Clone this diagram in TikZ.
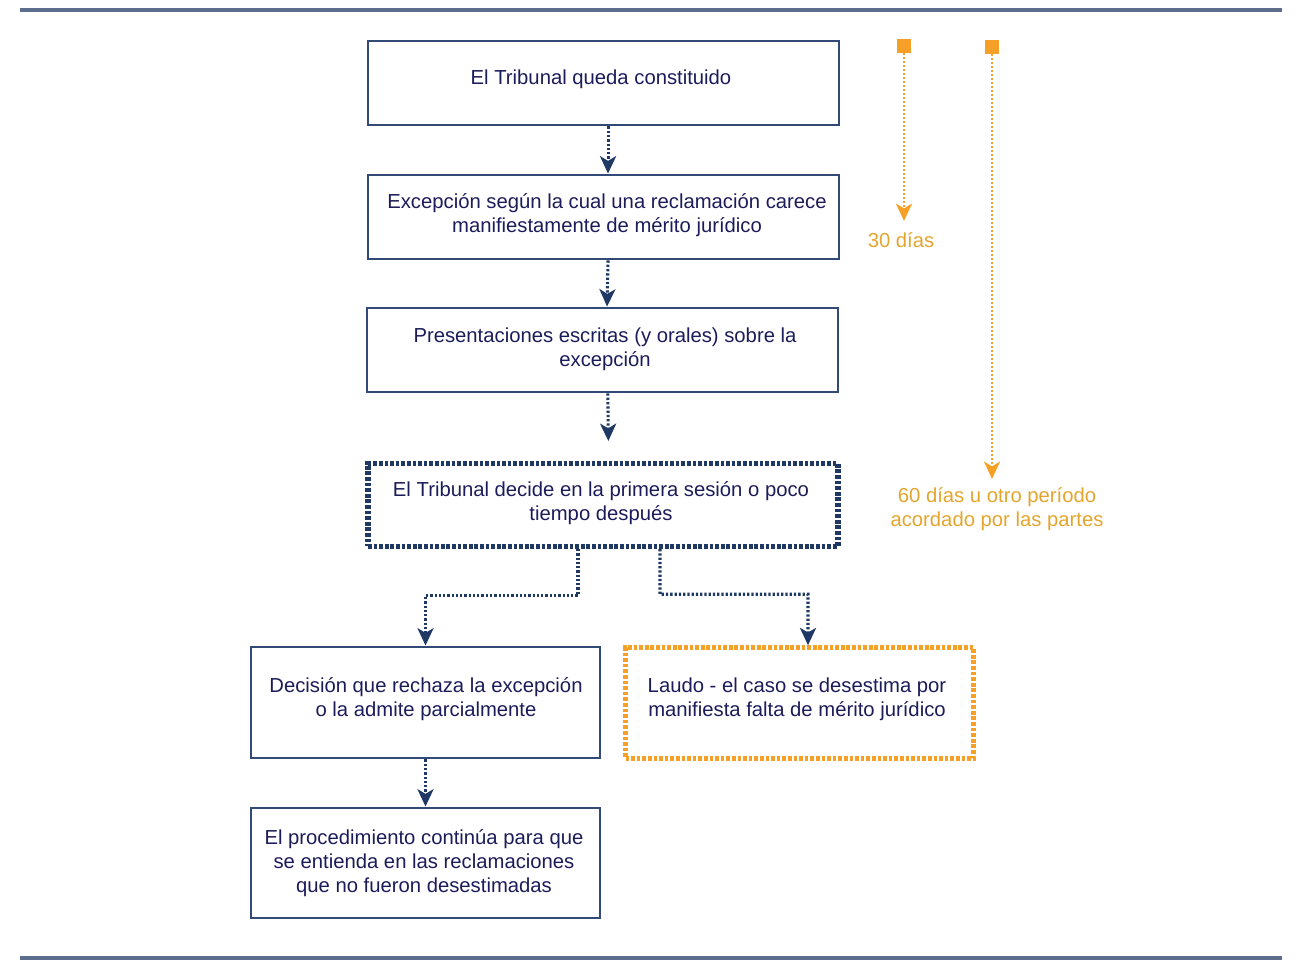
\documentclass[tikz,border=0pt]{standalone}
\usepackage{fontspec}
\setmainfont{Liberation Sans}
\usetikzlibrary{arrows.meta,calc}
\definecolor{boxc}{RGB}{50,74,118}
\definecolor{arrc}{RGB}{31,56,100}
\definecolor{txtc}{RGB}{28,28,90}
\definecolor{rulec}{RGB}{92,110,140}
\definecolor{orl}{RGB}{247,160,40}
\definecolor{ort}{RGB}{228,165,45}
\tikzset{
  box/.style={draw=boxc, line width=2.2pt, inner sep=0pt},
  dotbox/.style={draw=arrc, line width=4pt, dash pattern=on 2.8pt off 1.4pt, inner sep=0pt},
  orbox/.style={draw=orl, line width=3.4pt, dash pattern=on 2.8pt off 1.4pt, inner sep=0pt},
  txt/.style={text=txtc, font=\fontsize{15.2pt}{18pt}\selectfont, align=center, inner sep=0pt},
  otxt/.style={text=ort, font=\fontsize{15.2pt}{18pt}\selectfont, align=center, inner sep=0pt},
  arr/.style={draw=arrc, line width=2.3pt, dash pattern=on 1.7pt off 1.5pt, -{Stealth[length=13pt,width=12pt,inset=3.5pt]}},
  oarr/.style={draw=orl, line width=2.1pt, dash pattern=on 1.7pt off 1.3pt, -{Stealth[length=13pt,width=12pt,inset=3.5pt]}},
  osq/.style={fill=orl, minimum size=10pt, inner sep=0pt},
  rulel/.style={draw=rulec, line width=2.5pt}
}
\begin{document}
\begin{tikzpicture}[x=0.75pt,y=-0.75pt]
\useasboundingbox (0,0) rectangle (1299,974);
\coordinate (r1a) at (20,10); \coordinate (r1b) at (1282,10);
\coordinate (r2a) at (20,958); \coordinate (r2b) at (1282,958);
\draw[rulel] (r1a) -- (r1b);
\draw[rulel] (r2a) -- (r2b);

% boxes
\node[box, minimum width=353.25pt, minimum height=63pt] (b1) at (603.5,83) {};
\node[txt] (b1t) at (601,79) {El Tribunal queda constituido};
\node[box, minimum width=353.25pt, minimum height=63pt] (b2) at (603.5,217) {};
\node[txt] (b2t) at (607,215) {Excepción según la cual una reclamación carece\\manifiestamente de mérito jurídico};
\node[box, minimum width=353.25pt, minimum height=63pt] (b3) at (602.5,350) {};
\node[txt] (b3t) at (605,349) {Presentaciones escritas (y orales) sobre la\\excepción};
\node[dotbox, minimum width=352.5pt, minimum height=62pt] (b4) at (603,505) {};
\node[txt] (b4t) at (601,503) {El Tribunal decide en la primera sesión o poco\\tiempo después};
\node[box, minimum width=261.75pt, minimum height=83.25pt] (b5) at (425.5,702.5) {};
\node[txt] (b5t) at (426,699) {Decisión que rechaza la excepción\\o la admite parcialmente};
\node[orbox, minimum width=261pt, minimum height=83.25pt] (b6) at (799.5,703) {};
\node[txt] (b6t) at (797,699) {Laudo - el caso se desestima por\\manifiesta falta de mérito jurídico};
\node[box, minimum width=261.75pt, minimum height=82.5pt] (b7) at (425.5,863) {};
\node[txt] (b7t) at (424,863) {El procedimiento continúa para que\\se entienda en las reclamaciones\\que no fueron desestimadas};

% connectors
\draw[arr] ([xshift=3.4pt]b1.south) -- ([xshift=3.4pt]b2.north);
\draw[arr] ([xshift=3.4pt]b2.south) -- ([xshift=3.4pt]b3.north);
\draw[arr] ([xshift=4pt]b3.south) -- ([xshift=4pt,yshift=15pt]b4.north);
\draw[arr] ([xshift=-18.75pt]b4.south) |- ($(b5.north)+(0,-50)$) -- (b5.north);
\draw[arr] ([xshift=42.75pt]b4.south) |- ($(b6.north)+(8.5,-51)$) -- ([xshift=6.4pt]b6.north);
\draw[arr] (b5.south) -- (b7.north);

% orange timelines
\node[osq] (s1) at (904,46) {};
\coordinate (e1) at (904,221);
\draw[oarr] (s1.south) -- (e1);
\node[otxt] (l1) at (901,240) {30 días};
\node[osq] (s2) at (992,47) {};
\coordinate (e2) at (992,479);
\draw[oarr] (s2.south) -- (e2);
\node[otxt] (l2) at (997,509) {60 días u otro período\\acordado por las partes};
\end{tikzpicture}
\end{document}
